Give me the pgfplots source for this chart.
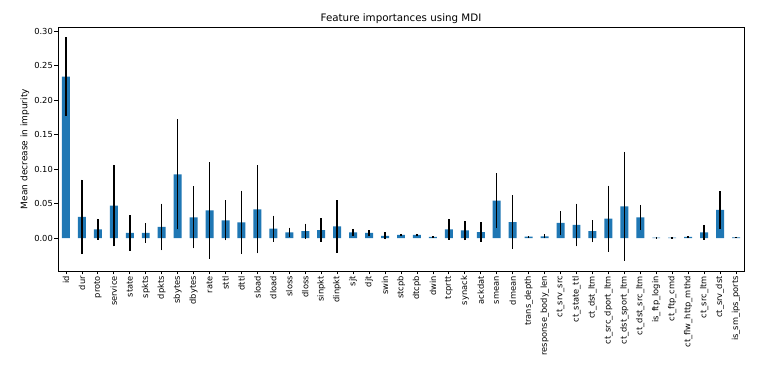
\documentclass[border=0pt]{standalone}
\usepackage{pgfplots}
\pgfplotsset{compat=1.18}
\usepackage{pgfplotstable}
\usepackage{fontspec}
\setmainfont{DejaVu Sans}
\definecolor{mplblue}{HTML}{1F77B4}
\pgfplotstableread{
x y e
0 0.2337 0.057
1 0.0305 0.054
2 0.0126 0.015
3 0.0470 0.059
4 0.0073 0.026
5 0.0073 0.014
6 0.0160 0.034
7 0.0924 0.080
8 0.0300 0.045
9 0.0400 0.070
10 0.0256 0.029
11 0.0227 0.046
12 0.0416 0.064
13 0.0135 0.019
14 0.0082 0.007
15 0.0100 0.011
16 0.0116 0.017
17 0.0170 0.038
18 0.0082 0.005
19 0.0073 0.004
20 0.0030 0.005
21 0.0044 0.0015
22 0.0044 0.0015
23 0.0015 0.001
24 0.0126 0.015
25 0.0110 0.014
26 0.0087 0.014
27 0.0540 0.040
28 0.0230 0.039
29 0.0020 0.0005
30 0.0024 0.003
31 0.0218 0.017
32 0.0189 0.031
33 0.0100 0.016
34 0.0280 0.048
35 0.0460 0.079
36 0.0300 0.018
37 0.0005 0.0003
38 0.0005 0.0003
39 0.0015 0.0008
40 0.0082 0.011
41 0.0406 0.027
42 0.0010 0.0005
}\imp
\begin{document}
\begin{tikzpicture}[x=1pt,y=1pt]
\path[use as bounding box] (0,0) rectangle (768,366);
\begin{axis}[
  at={(58pt,95pt)}, anchor=south west,
  scale only axis, width=686pt, height=244pt,
  xmin=-0.5, xmax=42.5, ymin=-0.0478, ymax=0.3058,
  axis line style={line width=0.8pt},
  tick align=outside, xtick pos=lower, ytick pos=left,
  major tick length=3.5pt,
  tick style={line width=0.8pt, black},
  xtick=data,
  xticklabels={id,dur,proto,service,state,spkts,dpkts,sbytes,dbytes,rate,sttl,dttl,sload,dload,sloss,dloss,sinpkt,dinpkt,sjt,djt,swin,stcpb,dtcpb,dwin,tcprtt,synack,ackdat,smean,dmean,trans\_depth,response\_body\_len,ct\_srv\_src,ct\_state\_ttl,ct\_dst\_ltm,ct\_src\_dport\_ltm,ct\_dst\_sport\_ltm,ct\_dst\_src\_ltm,is\_ftp\_login,ct\_ftp\_cmd,ct\_flw\_http\_mthd,ct\_src\_ltm,ct\_srv\_dst,is\_sm\_ips\_ports},
  x tick label style={rotate=90, anchor=east, font=\fontsize{8.3}{10}\selectfont, inner sep=1.5pt},
  ytick={0,0.05,0.1,0.15,0.2,0.25,0.3},
  y tick label style={font=\fontsize{8.3}{10}\selectfont, inner sep=1.5pt, /pgf/number format/.cd, fixed, fixed zerofill, precision=2, assume math mode=true},
  scaled y ticks=false,
  ylabel={Mean decrease in impurity},
  ylabel style={font=\fontsize{9}{11}\selectfont},
  title={Feature importances using MDI},
  title style={font=\fontsize{10.3}{12}\selectfont, yshift=-6pt},
]
\addplot[ybar, bar width=0.5, fill=mplblue, draw=none,
  error bars/.cd, y dir=both, y explicit,
  error bar style={line width=1.5pt, black}, error mark=none]
  table[x=x, y=y, y error=e] {\imp};
\end{axis}
\end{tikzpicture}
\end{document}
